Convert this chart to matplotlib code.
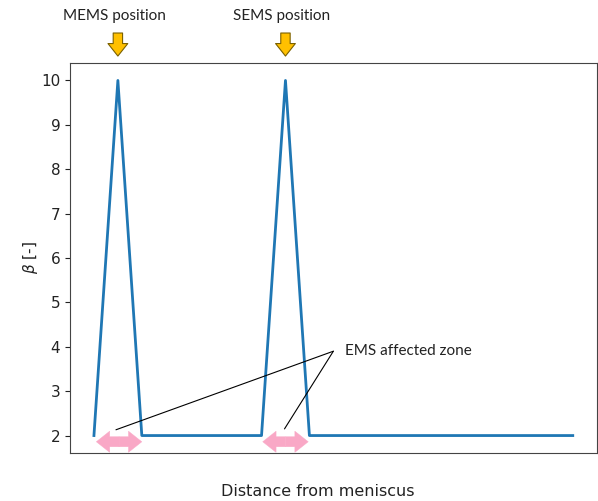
import matplotlib
matplotlib.use("Agg")
import matplotlib.pyplot as plt

# Position along the strand (arbitrary units) and stirring coefficient beta
distance = [0, 1, 2, 7, 8, 9, 20]
beta = [2, 10, 2, 2, 10, 2, 2]

# Stirrer positions (peaks) and their labels
stirrer_pos = [1, 8]
stirrer_labels = ["MEMS position", "SEMS position"]

# Extent of each EMS affected zone along the strand
zones = [(0.1, 2.0), (7.05, 8.95)]
zone_label = "EMS affected zone"

W, H = 598, 501
fig = plt.figure(figsize=(W / 100, H / 100), dpi=100)
left, right, top, bottom = 70, 596.7, 62.7, 453.3
ax = fig.add_axes([left / W, 1 - bottom / H, (right - left) / W, (bottom - top) / H])

ax.plot(distance, beta, color="#1f77b4", lw=2)
ax.set_xticks([])
ax.set_yticks(range(2, 11))
ax.tick_params(axis="y", labelsize=11, colors="#222222")
ax.set_ylabel(r"$\beta$ [-]", fontsize=11, color="#222222", va="center")
ax.yaxis.set_label_coords((30 - left) / (right - left), 0.5)
ax.set_xlabel("Distance from meniscus", fontsize=11.5, color="#222222", va="center")
ax.xaxis.set_label_coords((318 - left) / (right - left), (bottom - 492) / (bottom - top))
for s in ax.spines.values():
    s.set_color("#444444")

label_font = dict(family=["Lato", "DejaVu Sans"], fontsize=11, color="#222222")
xtrans = ax.get_xaxis_transform()

# Yellow arrows marking the stirrer positions
for xp, lab in zip(stirrer_pos, stirrer_labels):
    ax.annotate("", xy=(xp, 1.017), xytext=(xp, 1.076), xycoords=xtrans,
                textcoords=xtrans, annotation_clip=False,
                arrowprops=dict(arrowstyle="simple,head_length=0.6,head_width=0.95,tail_width=0.45",
                                mutation_scale=15, fc="#FFC000", ec="#7a6000", lw=0.8,
                                shrinkA=0, shrinkB=0))
    ax.text(xp - 0.15, 1.12, lab, transform=xtrans, ha="center", va="center", **label_font)

# Pink double arrows showing the affected zones
zone_y = 1.86
for x0, x1 in zones:
    mid = (x0 + x1) / 2
    for end in (x0, x1):
        ax.annotate("", xy=(end, zone_y), xytext=(mid, zone_y), annotation_clip=False,
                    arrowprops=dict(arrowstyle="simple,head_length=0.6,head_width=0.95,tail_width=0.45",
                                    mutation_scale=16, fc="#F9A8C6", ec="#F9A8C6", lw=0.3,
                                    shrinkA=0, shrinkB=0))

# Leader lines to the zone label
text_xy = (10.0, 3.9)
ax.text(10.5, 3.9, zone_label, ha="left", va="center", **label_font)
for tip in [(0.92, 2.13), (7.96, 2.15)]:
    ax.annotate("", xy=tip, xytext=text_xy,
                arrowprops=dict(arrowstyle="-", color="black", lw=0.8, shrinkA=0, shrinkB=0))

fig.savefig("out.png", dpi=100)
